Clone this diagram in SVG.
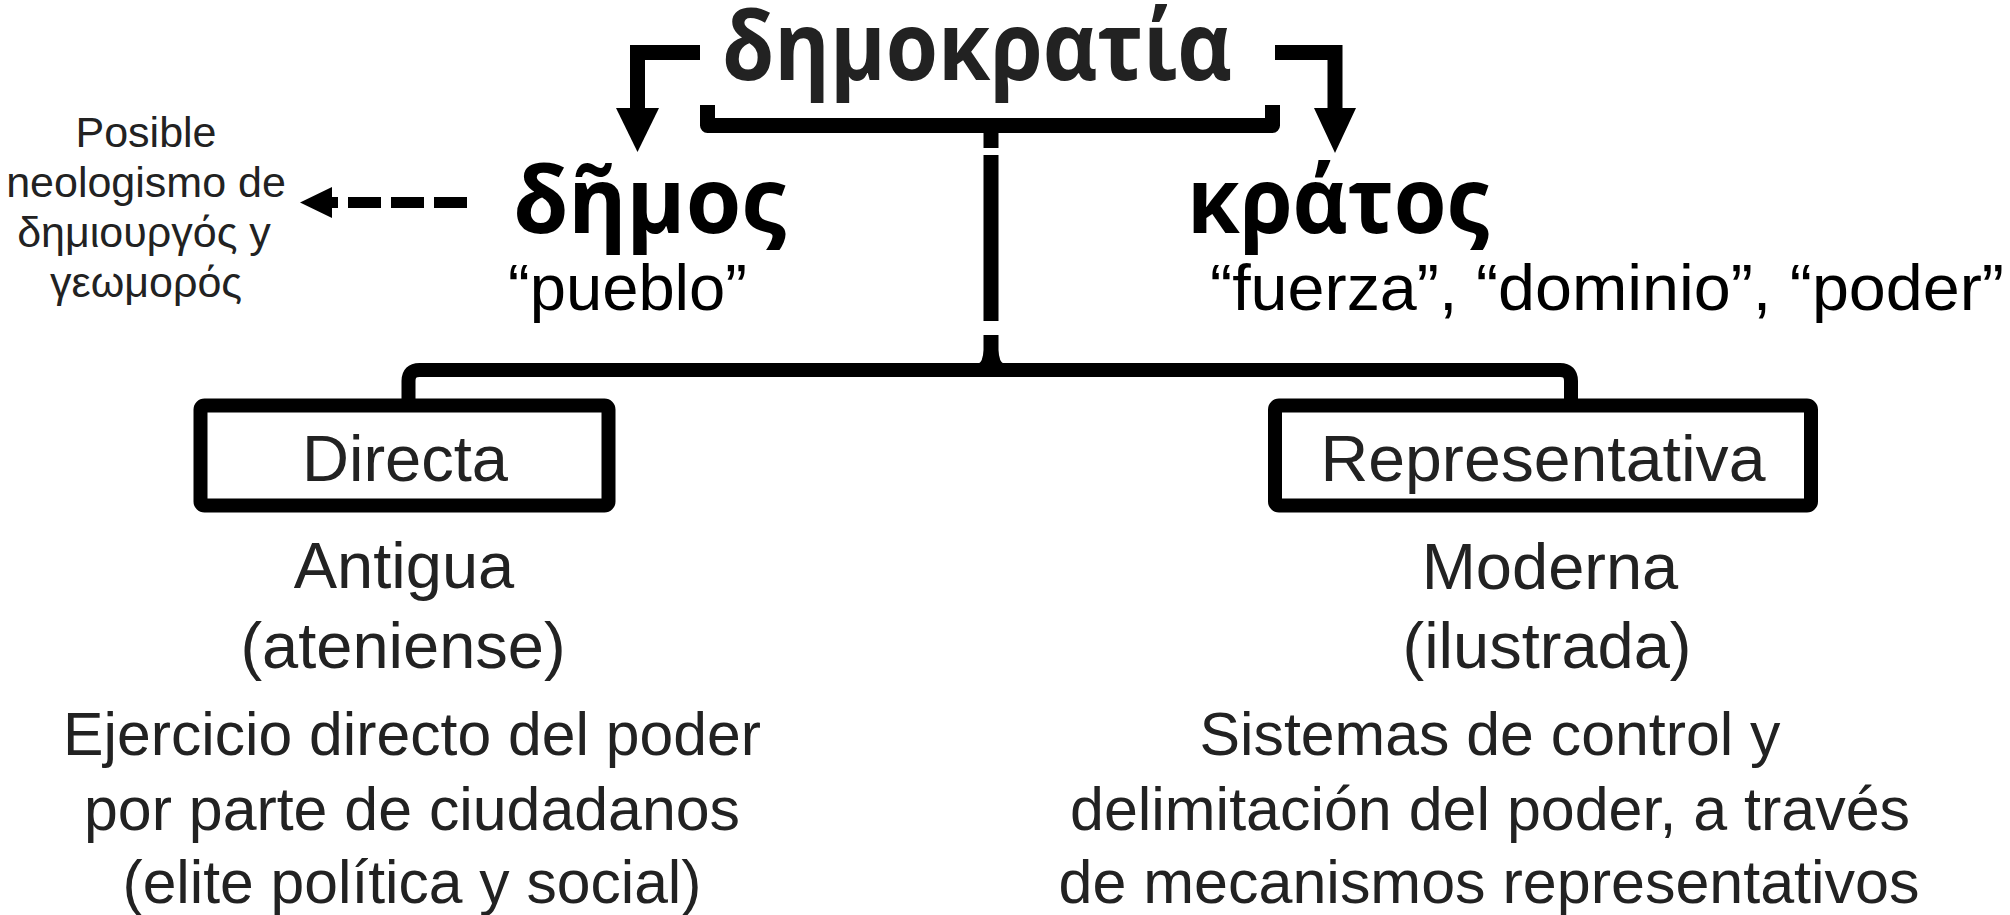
<svg xmlns="http://www.w3.org/2000/svg" width="2010" height="915" viewBox="0 0 2010 915">
<style>
.bg{fill:#fff}
.ln{fill:none;stroke:#000;stroke-width:15}
.box{fill:#fff;stroke:#000;stroke-width:14}
.greek{font-family:"Open Sans","Noto Sans","DejaVu Sans",sans-serif;font-weight:700;text-anchor:middle}
.t{font-family:"Liberation Sans",Arial,sans-serif;text-anchor:middle;fill:#222}
.big{font-size:65px}
.desc{font-size:61px}
.note{font-size:43px}
.blk{fill:#000}
</style>
<rect class="bg" x="0" y="0" width="2010" height="915"/>

<g id="connectors">
  <!-- left arrow from title to δῆμος -->
  <path class="ln" d="M700,52.5 H637.5 V112" stroke-linejoin="miter"/>
  <polygon points="616,108 659,108 637.5,152" fill="#000"/>
  <!-- right arrow from title to κράτος -->
  <path class="ln" d="M1275,52.5 H1335 V112" stroke-linejoin="miter"/>
  <polygon points="1314,108 1356,108 1335,153" fill="#000"/>
  <!-- bracket under title -->
  <path class="ln" d="M707.5,105 V125.5 H1272.5 V105" stroke-linejoin="round"/>
  <!-- central broken stem -->
  <line class="ln" x1="991" y1="126" x2="991" y2="148"/>
  <line class="ln" x1="991" y1="155" x2="991" y2="321"/>
  <path d="M983.5,335 H998.5 V350 Q999,362 1004,364 H978 Q983,362 983.5,350 Z" fill="#000"/>
  <!-- lower bar to the two boxes -->
  <path d="M408.5,406 V381 Q408.5,370 419.5,370 H1560 Q1571,370 1571,381 V406" fill="none" stroke="#000" stroke-width="14"/>
  <!-- dashed arrow to note -->
  <line x1="467" y1="202.5" x2="320" y2="202.5" stroke="#000" stroke-width="11" stroke-dasharray="33 10"/>
  <polygon points="300,202.5 332,187 332,218" fill="#000"/>
</g>

<g id="title">
  <text class="greek" x="977" y="80" font-size="95" textLength="510" lengthAdjust="spacingAndGlyphs" fill="#222">δημοκρατία</text>
</g>

<g id="demos">
  <text class="greek" x="649.5" y="233" font-size="92" textLength="273" lengthAdjust="spacingAndGlyphs" fill="#000">δῆμος</text>
  <text class="t big blk" x="627.5" y="310" textLength="239" lengthAdjust="spacingAndGlyphs">“pueblo”</text>
</g>

<g id="kratos">
  <text class="greek" x="1338" y="233" font-size="92" textLength="302" lengthAdjust="spacingAndGlyphs" fill="#000">κράτος</text>
  <text class="t big blk" x="1607" y="310" textLength="794" lengthAdjust="spacingAndGlyphs">“fuerza”, “dominio”, “poder”</text>
</g>

<g id="note">
  <text class="t note" x="146" y="147">Posible</text>
  <text class="t note" x="146" y="197">neologismo de</text>
  <text class="t note" x="144" y="247">δημιουργός y</text>
  <text class="t note" x="146" y="297">γεωμορός</text>
</g>

<g id="directa">
  <rect class="box" x="200.5" y="405.5" width="408" height="100" rx="4"/>
  <text class="t big" x="405" y="481" textLength="206" lengthAdjust="spacingAndGlyphs">Directa</text>
</g>

<g id="representativa">
  <rect class="box" x="1275" y="405.5" width="536" height="100" rx="4"/>
  <text class="t big" x="1543" y="481" textLength="445" lengthAdjust="spacingAndGlyphs">Representativa</text>
</g>

<g id="antigua">
  <text class="t big" x="404" y="588">Antigua</text>
  <text class="t big" x="403" y="668">(ateniense)</text>
  <text class="t desc" x="412" y="755" textLength="698" lengthAdjust="spacingAndGlyphs">Ejercicio directo del poder</text>
  <text class="t desc" x="412" y="830" textLength="656" lengthAdjust="spacingAndGlyphs">por parte de ciudadanos</text>
  <text class="t desc" x="412" y="903" textLength="579" lengthAdjust="spacingAndGlyphs">(elite política y social)</text>
</g>

<g id="moderna">
  <text class="t big" x="1550" y="589">Moderna</text>
  <text class="t big" x="1547" y="668">(ilustrada)</text>
  <text class="t desc" x="1490" y="755" textLength="581" lengthAdjust="spacingAndGlyphs">Sistemas de control y</text>
  <text class="t desc" x="1490" y="830" textLength="840" lengthAdjust="spacingAndGlyphs">delimitación del poder, a través</text>
  <text class="t desc" x="1489" y="903" textLength="861" lengthAdjust="spacingAndGlyphs">de mecanismos representativos</text>
</g>
</svg>
